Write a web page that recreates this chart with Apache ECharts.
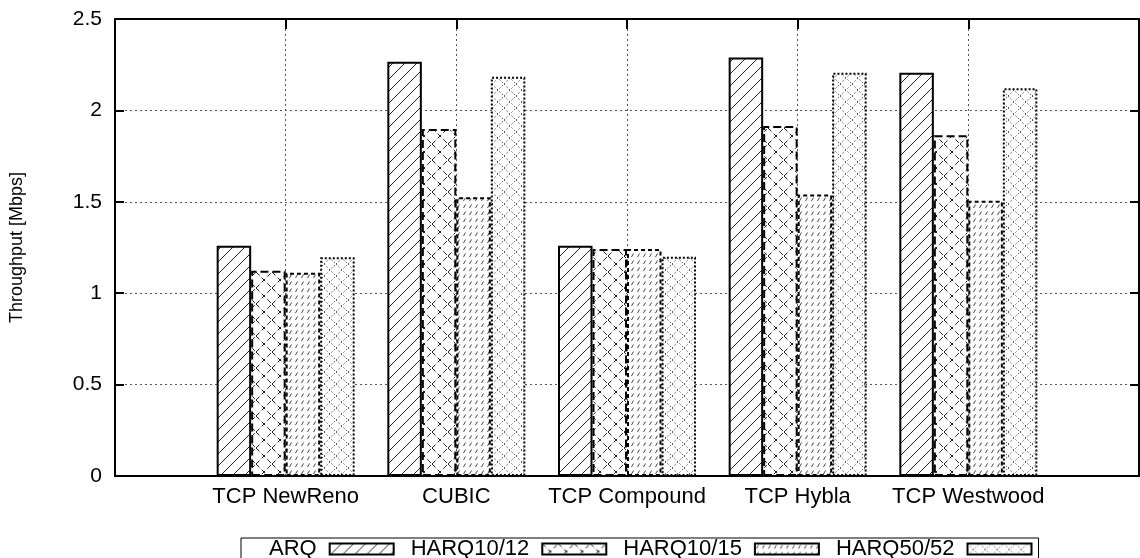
<!DOCTYPE html>
<html>
<head>
<meta charset="utf-8">
<script src="https://cdn.jsdelivr.net/npm/echarts@6/dist/echarts.min.js"></script>
<style>
html,body{margin:0;padding:0;background:#fff;}
#chart{width:1140px;height:558px;}
</style>
</head>
<body>
<div id="chart"></div>
<script>
const categories = ['TCP NewReno', 'CUBIC', 'TCP Compound', 'TCP Hybla', 'TCP Westwood'];
const seriesNames = ['ARQ', 'HARQ10/12', 'HARQ10/15', 'HARQ50/52'];
const arq      = [1.260, 2.266, 1.260, 2.290, 2.206];
const harq1012 = [1.123, 1.898, 1.242, 1.915, 1.864];
const harq1015 = [1.112, 1.525, 1.242, 1.540, 1.506];
const harq5052 = [1.196, 2.184, 1.200, 2.206, 2.121];
const yTicks = [0, 0.5, 1, 1.5, 2, 2.5];

function makeTile(w, h, draw) {
  const c = document.createElement('canvas');
  c.width = w; c.height = h;
  const ctx = c.getContext('2d');
  ctx.fillStyle = '#fff';
  ctx.fillRect(0, 0, w, h);
  draw(ctx, w, h);
  return { image: c, repeat: 'repeat' };
}
// "/" hatch
const patARQ = makeTile(12, 12, (ctx, w, h) => {
  ctx.strokeStyle = '#222'; ctx.lineWidth = 1;
  ctx.beginPath();
  ctx.moveTo(-1, h + 1); ctx.lineTo(w + 1, -1);
  ctx.moveTo(-1 - w, h + 1); ctx.lineTo(1, -1);
  ctx.moveTo(w - 1, h + 1); ctx.lineTo(2 * w + 1, -1);
  ctx.stroke();
});
// dashed cross-hatch
const pat1012 = makeTile(16, 16, (ctx, w, h) => {
  ctx.strokeStyle = '#222'; ctx.lineWidth = 1;
  ctx.setLineDash([5, 3]);
  ctx.beginPath();
  ctx.moveTo(0, h); ctx.lineTo(w, 0);
  ctx.moveTo(0, 0); ctx.lineTo(w, h);
  ctx.stroke();
});
// small slashes
const pat1015 = makeTile(6, 7, (ctx, w, h) => {
  ctx.strokeStyle = '#444'; ctx.lineWidth = 1;
  ctx.beginPath();
  ctx.moveTo(1.5, 5); ctx.lineTo(3.5, 1.5);
  ctx.stroke();
});
// dotted cross-hatch
const pat5052 = makeTile(12, 12, (ctx, w, h) => {
  ctx.strokeStyle = '#555'; ctx.lineWidth = 1;
  ctx.setLineDash([1.5, 2]);
  ctx.beginPath();
  ctx.moveTo(0, h); ctx.lineTo(w, 0);
  ctx.moveTo(0, 0); ctx.lineTo(w, h);
  ctx.stroke();
});

const axisData = [''].concat(categories, ['']);
function pad(arr) { return ['-'].concat(arr, ['-']); }

const styles = [
  { color: patARQ,  borderType: 'solid' },
  { color: pat1012, borderType: [8, 4] },
  { color: pat1015, borderType: [4, 3] },
  { color: pat5052, borderType: [2, 2] }
];
const values = [arq, harq1012, harq1015, harq5052];

const series = seriesNames.map((name, i) => ({
  name: name,
  type: 'bar',
  xAxisIndex: 0,
  yAxisIndex: 0,
  barWidth: 34.5,
  barGap: '0%',
  data: pad(values[i]),
  itemStyle: {
    color: styles[i].color,
    borderColor: '#000',
    borderWidth: 2,
    borderType: styles[i].borderType
  },
  emphasis: { disabled: true },
  animation: false
}));

const font = '"Liberation Sans", Arial, sans-serif';

const chart = echarts.init(document.getElementById('chart'), null, { renderer: 'canvas' });
chart.setOption({
  backgroundColor: '#fff',
  animation: false,
  grid: { left: 115, top: 19, width: 1024, height: 457, containLabel: false, outerBoundsMode: 'none' },
  legend: {
    data: seriesNames,
    left: 241,
    top: 538,
    align: 'right',
    itemWidth: 64,
    itemHeight: 11,
    itemGap: 16,
    padding: [0, 6, 0, 28],
    borderColor: '#000',
    borderWidth: 1,
    borderRadius: 0,
    icon: 'rect',
    textStyle: { fontFamily: font, fontSize: 22, color: '#000', lineHeight: 19, padding: [1, 8, 0, 0] },
    selectedMode: false
  },
  xAxis: [
    {
      type: 'category',
      data: axisData,
      boundaryGap: false,
      position: 'bottom',
      axisLine: { show: true, onZero: false, lineStyle: { color: '#000', width: 2 } },
      axisTick: { show: false },
      axisLabel: { color: '#000', fontFamily: font, fontSize: 22, margin: 10, interval: 0 },
      splitLine: { show: true, lineStyle: { color: '#555', width: 1, type: [2, 3] } }
    },
    {
      type: 'category',
      data: axisData,
      boundaryGap: false,
      position: 'top',
      axisLine: { show: true, onZero: false, lineStyle: { color: '#000', width: 2 } },
      axisTick: { show: true, inside: true, length: 10, interval: 0, lineStyle: { color: '#000', width: 2 } },
      axisLabel: { show: false },
      splitLine: { show: false }
    }
  ],
  yAxis: [
    {
      type: 'value',
      min: yTicks[0],
      max: yTicks[yTicks.length - 1],
      interval: 0.5,
      position: 'left',
      name: 'Throughput [Mbps]',
      nameLocation: 'middle',
      nameGap: 89,
      nameRotate: 90,
      nameTextStyle: { color: '#000', fontFamily: font, fontSize: 18 },
      axisLine: { show: true, onZero: false, lineStyle: { color: '#000', width: 2 } },
      axisTick: { show: true, inside: true, length: 9, lineStyle: { color: '#000', width: 2 } },
      axisLabel: { color: '#000', fontFamily: font, fontSize: 21, margin: 13, formatter: v => String(v) },
      splitLine: { show: true, lineStyle: { color: '#555', width: 1, type: [2, 3] } }
    },
    {
      type: 'value',
      min: yTicks[0],
      max: yTicks[yTicks.length - 1],
      interval: 0.5,
      position: 'right',
      axisLine: { show: true, onZero: false, lineStyle: { color: '#000', width: 2 } },
      axisTick: { show: true, inside: true, length: 9, lineStyle: { color: '#000', width: 2 } },
      axisLabel: { show: false },
      splitLine: { show: false }
    }
  ],
  series: series
});
</script>
</body>
</html>
